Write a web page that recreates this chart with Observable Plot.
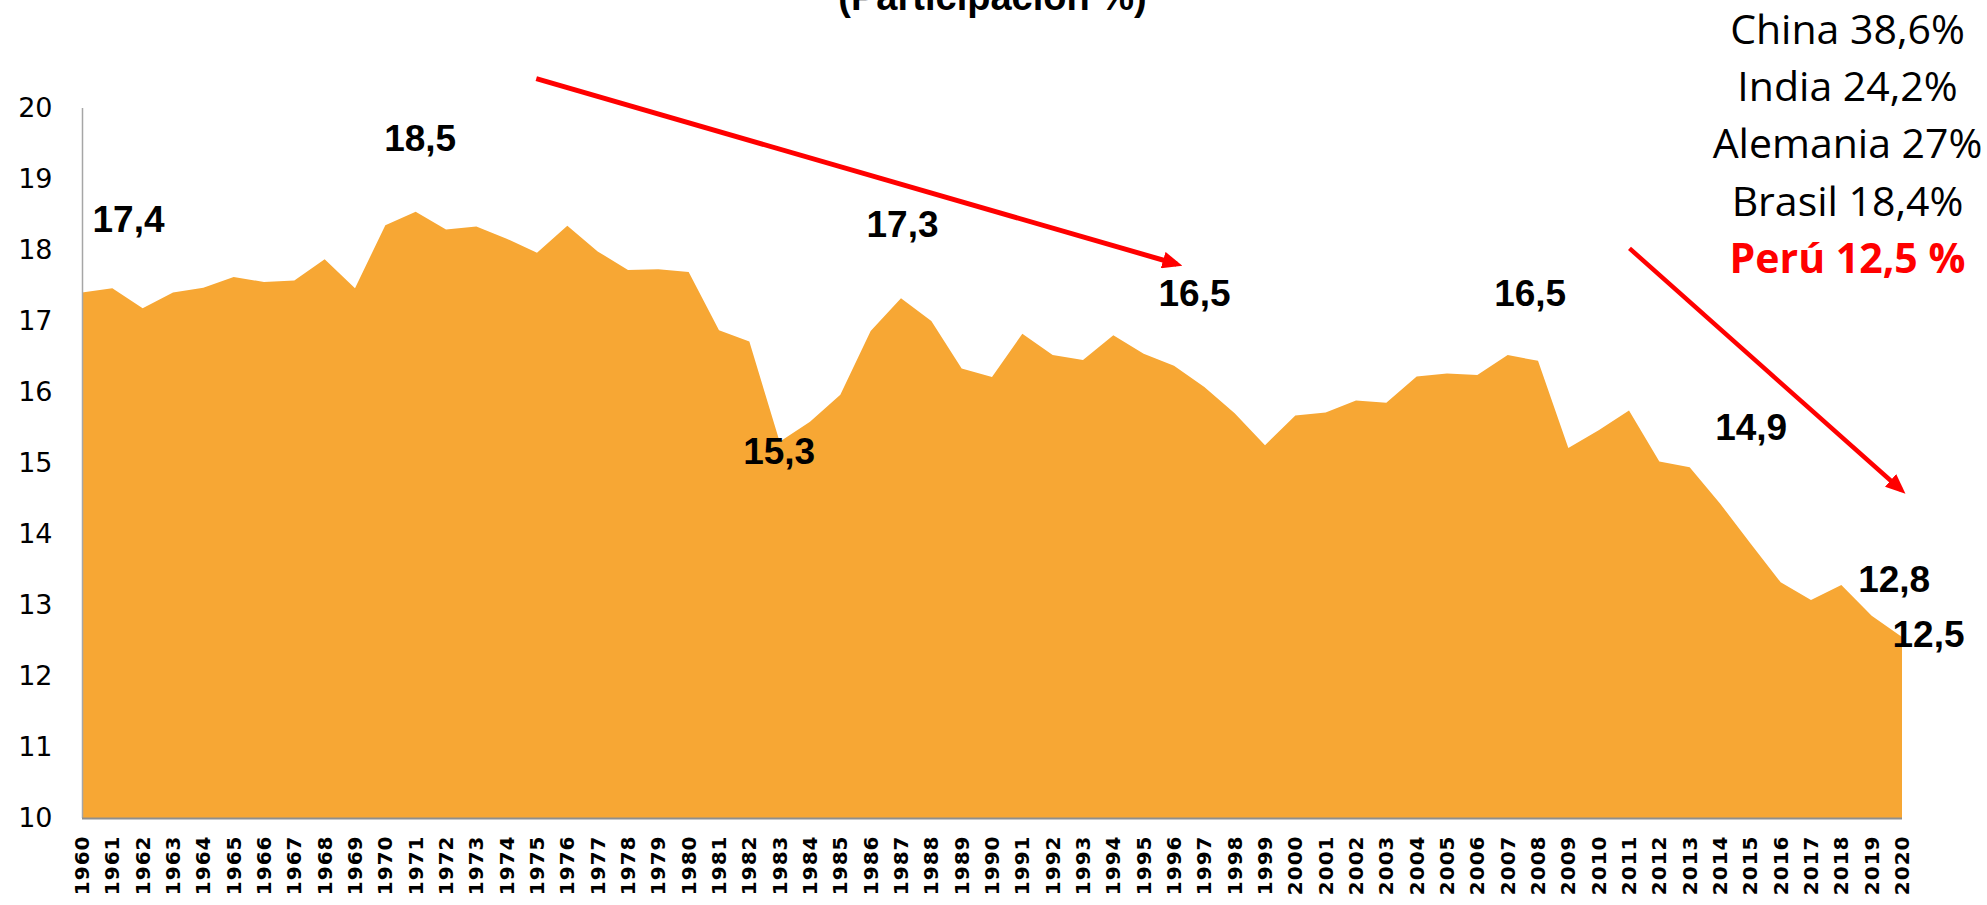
<!DOCTYPE html>
<html>
<head>
<meta charset="utf-8">
<script src="https://cdn.jsdelivr.net/npm/d3@7"></script>
<script src="https://cdn.jsdelivr.net/npm/@observablehq/plot@0.6"></script>
<style>
html, body { margin: 0; padding: 0; background: #fff; }
#chart { width: 1987px; height: 905px; overflow: hidden; position: relative; }
.chart g[aria-label="x-axis tick label"] text { letter-spacing: 1px; }
</style>
</head>
<body>
<div id="chart"></div>
<script>
// ---- data ----
const years = [1960,1961,1962,1963,1964,1965,1966,1967,1968,1969,
  1970,1971,1972,1973,1974,1975,1976,1977,1978,1979,
  1980,1981,1982,1983,1984,1985,1986,1987,1988,1989,
  1990,1991,1992,1993,1994,1995,1996,1997,1998,1999,
  2000,2001,2002,2003,2004,2005,2006,2007,2008,2009,
  2010,2011,2012,2013,2014,2015,2016,2017,2018,2019,2020];
const share = [17.40,17.46,17.18,17.40,17.47,17.62,17.55,17.57,17.87,17.46,
  18.35,18.54,18.29,18.33,18.16,17.96,18.34,17.98,17.72,17.73,
  17.69,16.87,16.71,15.30,15.58,15.96,16.86,17.32,17.00,16.33,
  16.21,16.82,16.52,16.45,16.80,16.54,16.37,16.07,15.70,15.25,
  15.67,15.71,15.88,15.85,16.22,16.26,16.24,16.52,16.44,15.21,
  15.46,15.74,15.02,14.94,14.43,13.87,13.32,13.07,13.28,12.85,12.55];
const yTicks = [10,11,12,13,14,15,16,17,18,19,20];
const labelYears = [1960,1971,1983,1987,1996,2007,2013,2019,2020];
const labelTexts = ["17,4","18,5","15,3","17,3","16,5","16,5","14,9","12,8","12,5"];
const countries = ["China","India","Alemania","Brasil","Perú"];
const countryShares = ["38,6%","24,2%","27%","18,4%","12,5 %"];
const titleText = "(Participación %)";
// annotation arrows (data units: year, %)
const arrowStart = [[1974.96, 20.42], [2011.0, 18.03]];
const arrowEnd = [[1996.07, 17.81], [2019.95, 14.63]];

// ---- styles ----
const ORANGE = "#F7A734";
const labelOffsets = [[46,-73],[4,-73],[-1,10],[1,-74],[20,-72],[22,-61],[61,-40],[22,-36],[26,-2]];
const arrowWidths = [5, 4.5];
const sideBaselines = [-65, -8, 49, 107, 164];

const table = years.map((y, i) => ({year: y, share: share[i]}));
const valueAt = new Map(table.map(d => [d.year, d.share]));

function triangleHead(color) {
  const ns = "http://www.w3.org/2000/svg";
  const m = document.createElementNS(ns, "marker");
  m.setAttribute("viewBox", "0 -8.5 20 17");
  m.setAttribute("markerUnits", "userSpaceOnUse");
  m.setAttribute("markerWidth", 20);
  m.setAttribute("markerHeight", 17);
  m.setAttribute("refX", 14);
  m.setAttribute("refY", 0);
  m.setAttribute("orient", "auto");
  const p = document.createElementNS(ns, "path");
  p.setAttribute("d", "M0,-8.5L20,0L0,8.5Z");
  p.setAttribute("fill", color);
  p.setAttribute("stroke", "none");
  m.appendChild(p);
  return m;
}

const labelMarks = labelYears.map((yr, i) =>
  Plot.text([{year: yr, share: valueAt.get(yr), text: labelTexts[i]}], {
    x: "year", y: "share", text: "text",
    dx: labelOffsets[i][0], dy: labelOffsets[i][1],
    fontFamily: "Liberation Sans", fontWeight: "bold", fontSize: 37, fill: "#000"
  })
);

const sideMarks = countries.map((c, i) =>
  Plot.text([`${c} ${countryShares[i]}`], {
    frameAnchor: "top-right", text: d => d, textAnchor: "middle", lineAnchor: "bottom",
    dx: -55, dy: sideBaselines[i],
    fontFamily: "Open Sans", fontSize: 41,
    fontWeight: i === countries.length - 1 ? "bold" : "normal",
    fill: i === countries.length - 1 ? "#FF0000" : "#000"
  })
);

const arrowMarks = arrowStart.map((s, i) =>
  Plot.link([{x1: s[0], y1: s[1], x2: arrowEnd[i][0], y2: arrowEnd[i][1]}], {
    x1: "x1", y1: "y1", x2: "x2", y2: "y2",
    stroke: "#FF0000", strokeWidth: arrowWidths[i], markerEnd: triangleHead
  })
);

const chart = Plot.plot({
  width: 1987,
  height: 905,
  marginLeft: 82,
  marginRight: 85,
  marginTop: 108,
  marginBottom: 87,
  className: "chart",
  style: {background: "#fff", color: "#000"},
  x: {domain: [1960, 2020], label: null},
  y: {domain: [10, 20], label: null},
  marks: [
    Plot.areaY(table, {x: "year", y1: 10, y2: "share", fill: ORANGE}),
    Plot.ruleX([1960], {stroke: "#a6a6a6", strokeWidth: 1.5}),
    Plot.ruleY([10], {stroke: "#8f8f8f", strokeWidth: 2}),
    Plot.axisY({ticks: yTicks, tickSize: 0, tickPadding: 30, fontSize: 27,
      fontFamily: "DejaVu Sans", tickFormat: d => String(d), label: null}),
    Plot.axisX({ticks: years, tickSize: 0, tickPadding: 17, tickRotate: -90,
      fontSize: 20, fontWeight: "bold", fontFamily: "DejaVu Sans",
      tickFormat: d => String(d), label: null}),
    ...labelMarks,
    ...arrowMarks,
    ...sideMarks,
    Plot.text([titleText], {frameAnchor: "top", text: d => d, lineAnchor: "bottom",
      dy: -99, fontFamily: "Liberation Sans", fontWeight: "bold", fontSize: 38, fill: "#000"})
  ]
});
document.getElementById("chart").appendChild(chart);
</script>
</body>
</html>
